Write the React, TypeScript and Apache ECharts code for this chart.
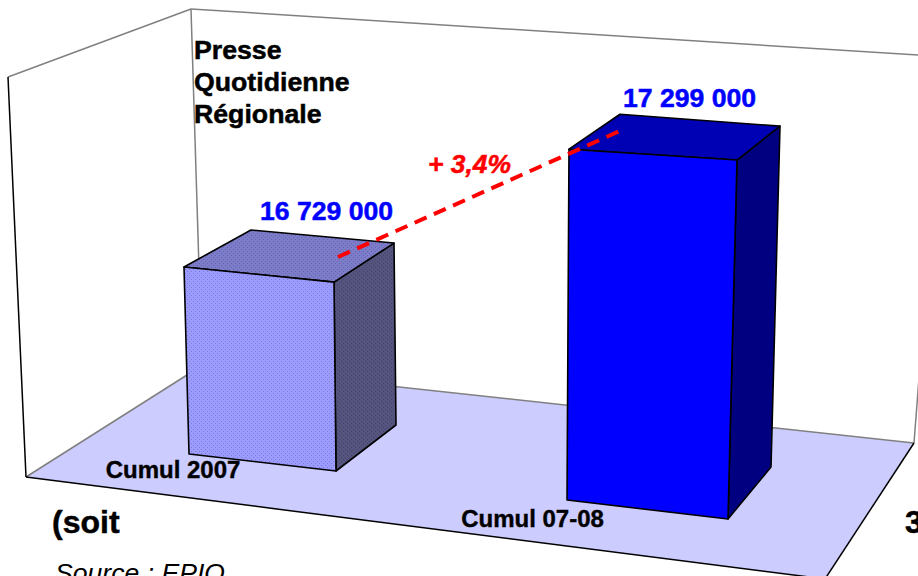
import React, { useEffect, useRef } from "react";
import * as echarts from "echarts";

const categories = ["Cumul 2007", "Cumul 07-08"];
const audienceValues = [16729000, 17299000];
const valueLabels = ["16 729 000", "17 299 000"];
const titleLines = ["Presse", "Quotidienne", "Régionale"];
const growthLabel = "+ 3,4%";
const footerLeft = "(soit";
const footerRight = "3";
const sourceLabel = "Source : EPIQ";

const AXIS_MIN = 16085000;
const AXIS_MAX = 17500000;
const FONT = "Arial, 'Liberation Sans', sans-serif";

type Corner = { dx: number; dy: number; lean: number; rise: number };

// Projection of each box: base corners relative to the category position, and
// how far each vertical edge leans/rises per pixel of bar height.
const BOX_SHAPES: { fl: Corner; fr: Corner; br: Corner; bl: Corner; label: number[]; cat: number[] }[] = [
  {
    fl: { dx: -73, dy: -46, lean: -0.0266, rise: 0.995 },
    fr: { dx: 74, dy: -29, lean: -0.0106, rise: 1.005 },
    br: { dx: 134, dy: -75, lean: -0.0106, rise: 0.968 },
    bl: { dx: -13, dy: -92, lean: 0.0106, rise: 0.947 },
    label: [326.5, 211],
    cat: [173, 469],
  },
  {
    fl: { dx: -81, dy: 0, lean: 0.0056, rise: 0.99 },
    fr: { dx: 80, dy: 19, lean: 0.0254, rise: 1.013 },
    br: { dx: 123, dy: -33, lean: 0.0254, rise: 0.962 },
    bl: { dx: -38, dy: -52, lean: 0.0282, rise: 0.942 },
    label: [689.5, 98],
    cat: [532.5, 518],
  },
];

const makePattern = (base: string, dot: string) => {
  const c = document.createElement("canvas");
  c.width = 4;
  c.height = 4;
  const g = c.getContext("2d")!;
  g.fillStyle = base;
  g.fillRect(0, 0, 4, 4);
  g.fillStyle = dot;
  g.fillRect(1, 1, 1, 1);
  g.fillRect(3, 3, 1, 1);
  return { image: c, repeat: "repeat", imageWidth: 4, imageHeight: 4 } as any;
};

export default function App() {
  const ref = useRef<HTMLDivElement>(null);

  useEffect(() => {
    document.body.style.margin = "0";
    const chart = echarts.init(ref.current!, null, { renderer: "svg" });

    const faces = [
      {
        front: makePattern("#9c9cff", "#7c7cdc"),
        top: makePattern("#7c7cc8", "#6464b4"),
        side: makePattern("#54547f", "#44446c"),
      },
      { front: "#0000ff", top: "#0000b4", side: "#000080" },
    ];

    const renderBox = (_: any, api: any) => {
      const i = api.value(0);
      const base = api.coord([i, AXIS_MIN]);
      const top = api.coord([i, api.value(1)]);
      const h = base[1] - top[1];
      const shape = BOX_SHAPES[i];
      const low = (c: Corner) => [base[0] + c.dx, base[1] + c.dy];
      const high = (c: Corner) => [base[0] + c.dx + c.lean * h, base[1] + c.dy - c.rise * h];
      const edge = { stroke: "#000000", lineWidth: 1.6, lineJoin: "round" };
      const poly = (points: number[][], fill: any) => ({
        type: "polygon",
        shape: { points },
        style: { fill, ...edge },
      });
      return {
        type: "group",
        children: [
          poly([low(shape.fr), low(shape.br), high(shape.br), high(shape.fr)], faces[i].side),
          poly([high(shape.fl), high(shape.fr), high(shape.br), high(shape.bl)], faces[i].top),
          poly([low(shape.fl), low(shape.fr), high(shape.fr), high(shape.fl)], faces[i].front),
          {
            type: "text",
            x: shape.label[0],
            y: shape.label[1],
            style: {
              text: valueLabels[i],
              fill: "#0000ff",
              stroke: "#0000ff",
              lineWidth: 0.5,
              font: `bold 26.6px ${FONT}`,
              align: "center",
              verticalAlign: "middle",
            },
          },
          {
            type: "text",
            x: shape.cat[0],
            y: shape.cat[1],
            style: {
              text: categories[i],
              fill: "#000000",
              stroke: "#000000",
              lineWidth: 0.4,
              font: `bold 24px ${FONT}`,
              align: "center",
              verticalAlign: "middle",
            },
          },
        ],
      };
    };

    const label = (text: string, x: number, y: number, font: string, fill = "#000000", weight = 0.5) => ({
      type: "text",
      x,
      y,
      z: 20,
      style: { text, font, fill, stroke: fill, lineWidth: weight, align: "left", verticalAlign: "middle" },
    });
    const wallLine = (a: number[], b: number[], stroke: string) => ({
      type: "line",
      z: 1,
      shape: { x1: a[0], y1: a[1], x2: b[0], y2: b[1] },
      style: { stroke, lineWidth: 1.5 },
    });

    chart.setOption({
      animation: false,
      backgroundColor: "#ffffff",
      grid: { left: 69, width: 772, top: 87, height: 413 },
      xAxis: { type: "category", data: categories, show: false },
      yAxis: { type: "value", min: AXIS_MIN, max: AXIS_MAX, show: false },
      graphic: {
        elements: [
          {
            type: "polygon",
            z: 0,
            shape: { points: [[26, 477], [202, 365.5], [914, 443], [825, 579]] },
            style: { fill: "#ccccff" },
          },
          wallLine([8, 77], [191, 9], "#808080"),
          wallLine([191, 9], [925, 55.5], "#808080"),
          wallLine([191, 9], [202, 365.5], "#808080"),
          wallLine([26, 477], [202, 365.5], "#808080"),
          wallLine([202, 365.5], [914, 443], "#808080"),
          wallLine([914, 443], [925, 300], "#808080"),
          wallLine([8, 77], [26, 477], "#000000"),
          wallLine([26, 477], [825, 579], "#000000"),
          wallLine([914, 443], [825, 579], "#000000"),
          ...titleLines.map((t, i) => label(t, 194, 50 + i * 32, `bold 26.7px ${FONT}`)),
          {
            type: "line",
            z: 15,
            shape: { x1: 338, y1: 257, x2: 622, y2: 130 },
            style: { stroke: "#ff0000", lineWidth: 4, lineDash: [13, 8] },
          },
          label(growthLabel, 428, 164, `italic bold 26.4px ${FONT}`, "#ff0000"),
          label(footerLeft, 52, 522, `bold 32px ${FONT}`),
          label(footerRight, 905, 522, `bold 32px ${FONT}`),
          label(sourceLabel, 55, 573, `italic 26.6px ${FONT}`, "#000000", 0),
        ],
      },
      series: [
        {
          type: "custom",
          clip: false,
          z: 5,
          data: audienceValues.map((v, i) => [i, v]),
          encode: { x: 0, y: 1 },
          renderItem: renderBox,
        },
      ],
    });

    return () => chart.dispose();
  }, []);

  return <div ref={ref} style={{ position: "absolute", left: 0, top: 0, width: 918, height: 576 }} />;
}
